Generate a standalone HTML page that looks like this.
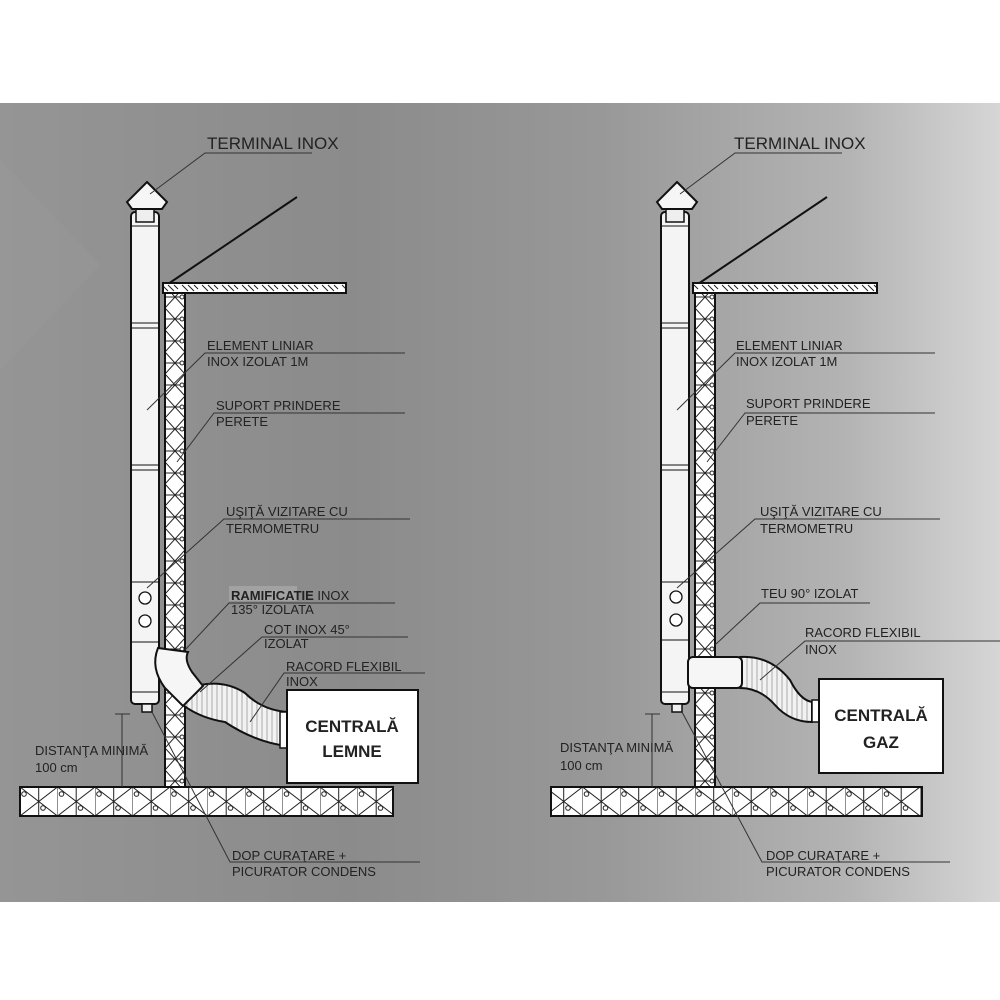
<!DOCTYPE html>
<html><head><meta charset="utf-8"><style>
html,body{margin:0;padding:0;background:#fff}
svg{display:block}
text{font-family:"Liberation Sans",sans-serif;fill:#222}
</style></head><body>
<svg width="1000" height="1000" viewBox="0 0 1000 1000" xmlns="http://www.w3.org/2000/svg">
<defs>
<linearGradient id="bg" x1="0" y1="0" x2="1" y2="0">
<stop offset="0" stop-color="#959595"/>
<stop offset="0.35" stop-color="#8b8b8b"/>
<stop offset="0.6" stop-color="#989898"/>
<stop offset="0.85" stop-color="#b4b4b4"/>
<stop offset="1" stop-color="#d6d6d6"/>
</linearGradient>
<pattern id="wallp" x="165" y="0" width="20" height="22" patternUnits="userSpaceOnUse">
<rect width="20" height="22" fill="#fff"/>
<path d="M0 0L20 22M20 0L0 22M0 11H20" stroke="#222" stroke-width="1"/>
<circle cx="17" cy="11" r="2" fill="#fff" stroke="#222"/>
</pattern>
<pattern id="wallp2" x="695" y="0" width="20" height="22" patternUnits="userSpaceOnUse">
<rect width="20" height="22" fill="#fff"/>
<path d="M0 0L20 22M20 0L0 22M0 11H20" stroke="#222" stroke-width="1"/>
<circle cx="17" cy="11" r="2" fill="#fff" stroke="#222"/>
</pattern>
<pattern id="floorp" x="20" y="787" width="37.5" height="29" patternUnits="userSpaceOnUse">
<rect width="37.5" height="29" fill="#fff"/>
<path d="M0 0L37.5 29M37.5 0L0 29M0 0V29M18.7 0V29" stroke="#222" stroke-width="1"/>
<circle cx="4" cy="7" r="2.3" fill="#fff" stroke="#222"/>
<circle cx="23" cy="21" r="2.3" fill="#fff" stroke="#222"/>
</pattern>
<pattern id="roofp" x="0" y="283" width="20" height="10" patternUnits="userSpaceOnUse">
<rect width="20" height="10" fill="#fff"/>
<path d="M2 2L8 8M8 2L14 8M14 2L18 6" stroke="#222" stroke-width="1"/>
</pattern>
<pattern id="flex" width="5" height="5" patternUnits="userSpaceOnUse">
<rect width="5" height="5" fill="#f2f2f2"/>
<path d="M2 0V5" stroke="#999" stroke-width="0.8"/>
</pattern>
</defs>
<rect x="0" y="0" width="1000" height="1000" fill="#fff"/>
<rect x="0" y="103" width="1000" height="799" fill="url(#bg)"/>
<path d="M0 160 L100 265 L0 370Z" fill="#9d9d9d" opacity="0.3"/>

<!-- LEFT DIAGRAM -->
<g stroke="#111" stroke-width="2">
<line x1="168" y1="284" x2="297" y2="197" stroke-width="2"/>
<rect x="163" y="283" width="183" height="10" fill="url(#roofp)"/>
<rect x="165" y="293" width="20" height="494" fill="url(#wallp)"/>
<rect x="20" y="787" width="373" height="29" fill="url(#floorp)"/>
<rect x="131" y="212" width="28" height="492" rx="4" fill="#f4f4f4"/>
<path d="M131 226H159M131 323H159M131 328H159M131 465H159M131 470H159M131 582H159M131 642H159M131 692H159" stroke-width="1"/>
<path d="M136 208V222H154V208" fill="#eee" stroke-width="1.5"/>
<polygon points="147,182 167,202 162,209 132,209 127,202" fill="#f6f6f6"/>
<rect x="142" y="704" width="10" height="8" fill="#eee" stroke-width="1.5"/>
<circle cx="145" cy="598" r="6" fill="#fff" stroke-width="1.3"/>
<circle cx="145" cy="621" r="6" fill="#fff" stroke-width="1.3"/>
<path d="M183 705 Q200 718 225 722 Q255 742 287 746 L287 712 Q262 710 245 693 Q225 680 200 685 Z" fill="url(#flex)"/>
<path d="M158 648 Q150 668 165 688 L183 706 L203 686 L192 672 Q184 660 188 652 Z" fill="#f6f6f6"/>
<rect x="280" y="712" width="8" height="36" fill="#fff" stroke-width="1.5"/>
<rect x="287" y="690" width="131" height="93" fill="#fff"/>
</g>
<g stroke="#333" stroke-width="1" fill="none">
<path d="M150 194 L205 153 H312"/>
<path d="M147 410 L205 353 H405"/>
<path d="M177 462 L214 413 H405"/>
<path d="M147 588 L224 519 H410"/>
<path d="M185 650 L229 603 H395"/>
<path d="M200 692 L262 637 H408"/>
<path d="M250 722 L284 673 H425"/>
<path d="M152 712 L230 862 H420"/>
<path d="M122 714 V787 M115 714 H130"/>
</g>
<rect x="229" y="586" width="68" height="15" fill="#a2a2a2"/>
<text x="207" y="149" font-size="17">TERMINAL INOX</text>
<text x="207" y="350" font-size="13">ELEMENT LINIAR</text>
<text x="207" y="366" font-size="13">INOX IZOLAT 1M</text>
<text x="216" y="410" font-size="13">SUPORT PRINDERE</text>
<text x="216" y="426" font-size="13">PERETE</text>
<text x="226" y="516" font-size="13">UŞIŢĂ VIZITARE CU</text>
<text x="226" y="533" font-size="13">TERMOMETRU</text>
<text x="231" y="600" font-size="13"><tspan font-weight="bold">RAMIFICATIE</tspan> INOX</text>
<text x="231" y="614" font-size="13">135° IZOLATA</text>
<text x="264" y="634" font-size="13">COT INOX 45°</text>
<text x="264" y="648" font-size="13">IZOLAT</text>
<text x="286" y="671" font-size="13">RACORD FLEXIBIL</text>
<text x="286" y="686" font-size="13">INOX</text>
<text x="35" y="755" font-size="13">DISTANŢA MINIMĂ</text>
<text x="35" y="772" font-size="13">100 cm</text>
<text x="232" y="860" font-size="13">DOP CURAŢARE +</text>
<text x="232" y="876" font-size="13">PICURATOR CONDENS</text>
<text x="352" y="732" font-size="17" font-weight="bold" text-anchor="middle" font-family="DejaVu Sans, sans-serif">CENTRALĂ</text>
<text x="352" y="757" font-size="17" font-weight="bold" text-anchor="middle" font-family="DejaVu Sans, sans-serif">LEMNE</text>

<!-- RIGHT DIAGRAM -->
<g stroke="#111" stroke-width="2">
<line x1="698" y1="284" x2="827" y2="197"/>
<rect x="693" y="283" width="184" height="10" fill="url(#roofp)"/>
<rect x="695" y="293" width="20" height="494" fill="url(#wallp2)"/>
<rect x="551" y="787" width="371" height="29" fill="url(#floorp)"/>
<rect x="661" y="212" width="28" height="492" rx="4" fill="#f4f4f4"/>
<path d="M661 226H689M661 323H689M661 328H689M661 465H689M661 470H689M661 582H689M661 640H689M661 692H689" stroke-width="1"/>
<path d="M666 208V222H684V208" fill="#eee" stroke-width="1.5"/>
<polygon points="677,182 697,202 692,209 662,209 657,202" fill="#f6f6f6"/>
<rect x="672" y="704" width="10" height="8" fill="#eee" stroke-width="1.5"/>
<circle cx="676" cy="597" r="6" fill="#fff" stroke-width="1.3"/>
<circle cx="676" cy="620" r="6" fill="#fff" stroke-width="1.3"/>
<path d="M740 657 Q770 655 790 680 Q800 700 812 702 L812 722 Q790 722 775 705 Q760 688 740 688 Z" fill="url(#flex)"/>
<rect x="688" y="657" width="54" height="31" rx="5" fill="#f6f6f6"/>
<rect x="812" y="700" width="8" height="22" fill="#fff" stroke-width="1.5"/>
<rect x="819" y="679" width="124" height="94" fill="#fff"/>
</g>
<g stroke="#333" stroke-width="1" fill="none">
<path d="M680 194 L735 153 H842"/>
<path d="M677 410 L735 353 H935"/>
<path d="M707 462 L745 413 H935"/>
<path d="M677 588 L755 519 H940"/>
<path d="M715 645 L760 603 H870"/>
<path d="M760 680 L805 641 H1000"/>
<path d="M682 712 L762 862 H950"/>
<path d="M652 714 V787 M645 714 H660"/>
</g>
<text x="734" y="149" font-size="17">TERMINAL INOX</text>
<text x="736" y="350" font-size="13">ELEMENT LINIAR</text>
<text x="736" y="366" font-size="13">INOX IZOLAT 1M</text>
<text x="746" y="408" font-size="13">SUPORT PRINDERE</text>
<text x="746" y="425" font-size="13">PERETE</text>
<text x="760" y="516" font-size="13">UŞIŢĂ VIZITARE CU</text>
<text x="760" y="533" font-size="13">TERMOMETRU</text>
<text x="761" y="598" font-size="13">TEU 90° IZOLAT</text>
<text x="805" y="637" font-size="13">RACORD FLEXIBIL</text>
<text x="805" y="654" font-size="13">INOX</text>
<text x="560" y="752" font-size="13">DISTANŢA MINIMĂ</text>
<text x="560" y="770" font-size="13">100 cm</text>
<text x="766" y="860" font-size="13">DOP CURAŢARE +</text>
<text x="766" y="876" font-size="13">PICURATOR CONDENS</text>
<text x="881" y="721" font-size="17" font-weight="bold" text-anchor="middle" font-family="DejaVu Sans, sans-serif">CENTRALĂ</text>
<text x="881" y="748" font-size="17" font-weight="bold" text-anchor="middle" font-family="DejaVu Sans, sans-serif">GAZ</text>
</svg>
</body></html>
